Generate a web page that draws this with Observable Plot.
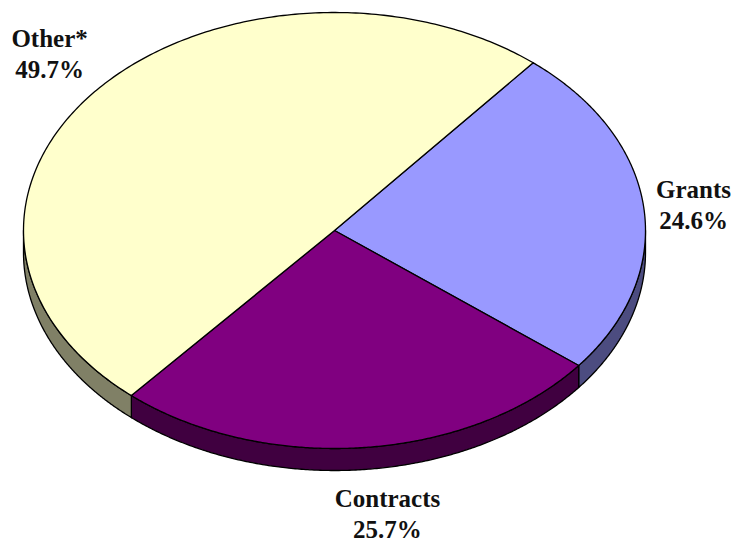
<!DOCTYPE html>
<html><head><meta charset="utf-8">
<script src="https://cdn.jsdelivr.net/npm/d3@7"></script>
<script src="https://cdn.jsdelivr.net/npm/@observablehq/plot@0.6"></script>
<style>html,body{margin:0;padding:0;background:#fff}svg{display:block}</style>
</head><body><div id="chart"></div>
<script>
const categories = ["Grants", "Contracts", "Other*"];
const shares = [24.6, 25.7, 49.7];
const topColors = ["#9999FF", "#800080", "#FFFFCC"];
const sideColors = ["#4C4C80", "#400040", "#808066"];
const labelLines = ["Grants\n24.6%", "Contracts\n25.7%", "Other*\n49.7%"];
const labelAngles = [83.9, 172.5, 311.7];
const labelRadius = [1.161, 1.305, 1.227];
const startAngleDeg = 39.7;
const rx = 311, ry = 218, depth = 22;
const cx = 334, cy = 230;

const pie = d3.pie().sort(null).startAngle(startAngleDeg*Math.PI/180).endAngle((startAngleDeg+360)*Math.PI/180)(shares);
const pt = (a, drop=0) => ({x: Math.sin(a), y: Math.cos(a) - drop});
const steps = (a0, a1) => d3.range(0, 241).map(i => a0 + (a1-a0)*i/240);
const dropU = depth/ry;

const tops = pie.map((s,i) => {
  const pts = [{x:0,y:0}, ...steps(s.startAngle, s.endAngle).map(a => pt(a)), {x:0,y:0}];
  return pts.map(p => ({...p, k:i}));
});
// visible wall: the part of each slice's rim on the lower half of the ellipse
const sides = pie.map((s,i) => {
  const lo = Math.max(s.startAngle, Math.PI/2), hi = Math.min(s.endAngle, 3*Math.PI/2);
  if (!(lo < hi)) return [];
  const arc = steps(lo,hi);
  return [...arc.map(x => pt(x)), ...arc.slice().reverse().map(x => pt(x, dropU)), pt(lo)].map(p => ({...p, k:i}));
});
const labels = pie.map((s,i) => {
  const a = labelAngles[i]*Math.PI/180;
  return {x: labelRadius[i]*Math.sin(a), y: labelRadius[i]*Math.cos(a), t: labelLines[i]};
});
const edge = {x:"x", y:"y", stroke:"#000", strokeWidth:1.3, curve:"linear", strokeLinejoin:"round"};

const W = 735, H = 542;
const plot = Plot.plot({
  width: W, height: H,
  margin: 0,
  style: {background:"#fff", overflow:"visible"},
  x: {domain:[-cx/rx, (W-cx)/rx], range:[0,W], axis:null},
  y: {domain:[(cy-H)/ry, cy/ry], range:[H,0], axis:null},
  marks: [
    ...sides.map((d,i) => d.length ? Plot.line(d, {...edge, fill: sideColors[i]}) : null),
    ...tops.map((d,i) => Plot.line(d, {...edge, fill: topColors[i]})),
    Plot.text(labels, {x:"x", y:"y", text:"t", fontFamily:"'Liberation Serif', serif", fontWeight:"bold", fontSize:25, fill:"#111", lineHeight:1.22})
  ]
});
document.getElementById("chart").append(plot);
</script></body></html>
